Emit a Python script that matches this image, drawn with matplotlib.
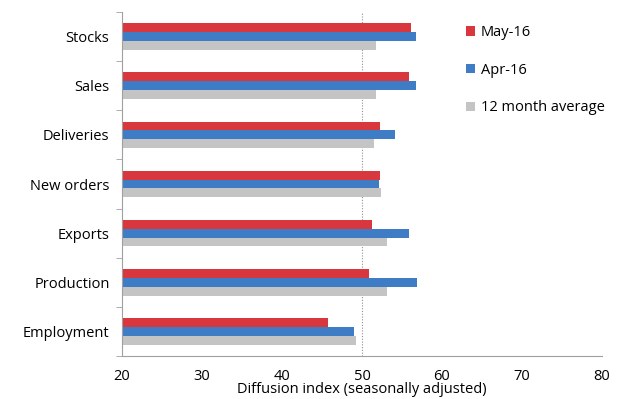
import numpy as np
import matplotlib.pyplot as plt

categories = ["Stocks", "Sales", "Deliveries", "New orders", "Exports", "Production", "Employment"]
may_16 = [56.1, 55.9, 52.25, 52.2, 51.3, 50.9, 45.7]
apr_16 = [56.75, 56.8, 54.1, 52.1, 55.9, 56.9, 49.0]
avg_12m = [51.75, 51.8, 51.5, 52.4, 53.1, 53.1, 49.25]
x_ticks = [20, 30, 40, 50, 60, 70, 80]

plt.rcParams['font.family'] = ['Open Sans', 'DejaVu Sans']

fig = plt.figure(figsize=(6.24, 3.99), dpi=100)
ax = fig.add_axes([122 / 624, 1 - 356 / 399, 480 / 624, 344 / 399])

n = len(categories)
y = np.arange(n)[::-1].astype(float)
h = 0.18
left = x_ticks[0]

series = [
    (may_16, "May-16", "#d8373d", -h),
    (apr_16, "Apr-16", "#3f7cc6", 0.0),
    (avg_12m, "12 month average", "#c4c4c4", h),
]
for vals, label, color, off in series:
    widths = np.array(vals) - left
    ax.barh(y - off, widths, left=left, height=h, color=color, label=label,
            edgecolor='none')

ax.axvline(50, color='#909090', linestyle=(0, (1, 1.5)), linewidth=0.8, zorder=0)

ax.set_xlim(20, 80)
ax.set_ylim(-0.5, n - 0.5)
ax.set_xticks(x_ticks)
ax.set_xticklabels([str(t) for t in x_ticks], fontsize=10.5)
ax.tick_params(axis='x', length=0, pad=9)
ax.set_yticks(y)
ax.set_yticklabels(categories, fontsize=10.5)
ax.tick_params(axis='y', length=0, pad=9)
ax.set_yticks(np.arange(n + 1) - 0.5, minor=True)
ax.tick_params(axis='y', which='minor', length=4, color='#a0a0a0')

for side in ['top', 'right']:
    ax.spines[side].set_visible(False)
for side in ['left', 'bottom']:
    ax.spines[side].set_color('#a0a0a0')
    ax.spines[side].set_linewidth(0.8)

ax.set_xlabel("Diffusion index (seasonally adjusted)", fontsize=10.5, labelpad=-1)

leg = ax.legend(loc='upper left', bbox_to_anchor=(0.69, 1.0), frameon=False,
                fontsize=10.5, handlelength=0.6, handleheight=0.6,
                handletextpad=0.4, labelspacing=1.55)

fig.savefig("out.png", dpi=100)
